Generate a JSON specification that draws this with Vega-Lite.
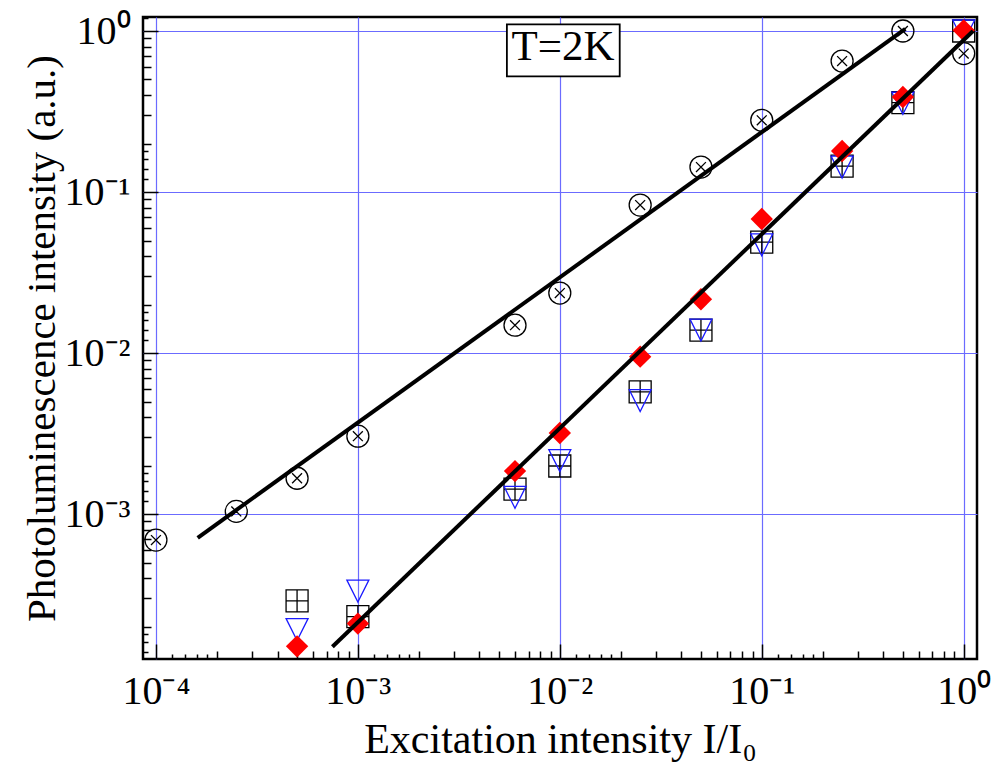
{
  "$schema": "https://vega.github.io/schema/vega-lite/v6.json",
  "width": 834,
  "height": 642,
  "autosize": {"type": "none"},
  "padding": {"left": 143, "top": 17, "right": 20, "bottom": 105},
  "background": "white",
  "config": {"view": {"stroke": "black", "strokeWidth": 2.5}},
  "datasets": {
    "circ": [
      {"x": 0.0001, "y": 0.00069},
      {"x": 0.00025, "y": 0.00104},
      {"x": 0.0005, "y": 0.00167},
      {"x": 0.001, "y": 0.00305},
      {"x": 0.006, "y": 0.0149},
      {"x": 0.01, "y": 0.0236},
      {"x": 0.025, "y": 0.083},
      {"x": 0.05, "y": 0.143},
      {"x": 0.1, "y": 0.279},
      {"x": 0.25, "y": 0.651},
      {"x": 0.5, "y": 1.0},
      {"x": 1, "y": 0.724}
    ],
    "sq": [
      {"x": 0.0005, "y": 0.000289},
      {"x": 0.001, "y": 0.000231},
      {"x": 0.006, "y": 0.00143},
      {"x": 0.01, "y": 0.00199},
      {"x": 0.025, "y": 0.00575},
      {"x": 0.05, "y": 0.0139},
      {"x": 0.1, "y": 0.0489},
      {"x": 0.25, "y": 0.145},
      {"x": 0.5, "y": 0.359},
      {"x": 1, "y": 1.0}
    ],
    "tri": [
      {"x": 0.0005, "y": 0.000192},
      {"x": 0.001, "y": 0.000333},
      {"x": 0.006, "y": 0.00127},
      {"x": 0.01, "y": 0.00215},
      {"x": 0.025, "y": 0.00507},
      {"x": 0.05, "y": 0.0139},
      {"x": 0.1, "y": 0.047},
      {"x": 0.25, "y": 0.143},
      {"x": 0.5, "y": 0.356},
      {"x": 1, "y": 1.0}
    ],
    "dia": [
      {"x": 0.0005, "y": 0.000151},
      {"x": 0.001, "y": 0.000209},
      {"x": 0.006, "y": 0.00185},
      {"x": 0.01, "y": 0.00319},
      {"x": 0.025, "y": 0.0095},
      {"x": 0.05, "y": 0.0216},
      {"x": 0.1, "y": 0.068},
      {"x": 0.25, "y": 0.18},
      {"x": 0.5, "y": 0.389},
      {"x": 1, "y": 1.01}
    ],
    "fit": [
      {"line": "A", "x": 0.000161, "y": 0.000713},
      {"line": "A", "x": 0.514, "y": 1.03},
      {"line": "B", "x": 0.000748, "y": 0.00015},
      {"line": "B", "x": 1.113, "y": 1.0}
    ],
    "box": [
      {"x": 0.00547, "x2": 0.0198, "y": 0.523, "y2": 1.10, "label": "T=2K", "tx": 0.01037, "ty": 0.664}
    ]
  },
  "resolve": {"axis": {"x": "independent", "y": "independent"}},
  "layer": [
    {
      "data": {"name": "sq"},
      "mark": {"type": "point", "shape": "M-1,-1H1V1H-1ZM0,-1V1M-1,0H1", "size": 484, "filled": false, "stroke": "black", "strokeWidth": 1.3, "opacity": 1},
      "encoding": {
        "x": {"field": "x", "type": "quantitative", "scale": {"type": "log", "domain": [0.0000863, 1.164], "nice": false},
          "axis": {"orient": "bottom", "values": [0.0002,0.0003,0.0004,0.0005,0.0006,0.0007,0.0008,0.0009,0.002,0.003,0.004,0.005,0.006,0.007,0.008,0.009,0.02,0.03,0.04,0.05,0.06,0.07,0.08,0.09,0.2,0.3,0.4,0.5,0.6,0.7,0.8,0.9],
            "tickSize": -8, "tickWidth": 1.5, "tickColor": "black", "labels": false, "domain": false, "grid": false, "title": null}},
        "y": {"field": "y", "type": "quantitative", "scale": {"type": "log", "domain": [0.000126, 1.222], "nice": false},
          "axis": {"orient": "left", "values": [0.0002,0.0003,0.0004,0.0005,0.0006,0.0007,0.0008,0.0009,0.002,0.003,0.004,0.005,0.006,0.007,0.008,0.009,0.02,0.03,0.04,0.05,0.06,0.07,0.08,0.09,0.2,0.3,0.4,0.5,0.6,0.7,0.8,0.9],
            "tickSize": -8, "tickWidth": 1.5, "tickColor": "black", "labels": false, "domain": false, "grid": false, "title": null}}
      }
    },
    {
      "data": {"name": "tri"},
      "mark": {"type": "point", "shape": "M-1,-1H1L0,1Z", "size": 484, "filled": false, "stroke": "#1a1aff", "strokeWidth": 1.3, "opacity": 1},
      "encoding": {
        "x": {"field": "x", "type": "quantitative",
          "axis": {"orient": "bottom", "values": [0.00012,0.00014,0.00016,0.00018,0.0012,0.0014,0.0016,0.0018,0.012,0.014,0.016,0.018,0.12,0.14,0.16,0.18],
            "tickSize": -5, "tickWidth": 1.5, "tickColor": "black", "labels": false, "domain": false, "grid": false, "title": null}},
        "y": {"field": "y", "type": "quantitative",
          "axis": {"orient": "left", "values": [0.00014,0.00016,0.00018,0.0012,0.0014,0.0016,0.0018,0.012,0.014,0.016,0.018,0.12,0.14,0.16,0.18,1.2],
            "tickSize": -5, "tickWidth": 1.5, "tickColor": "black", "labels": false, "domain": false, "grid": false, "title": null}}
      }
    },
    {
      "data": {"name": "circ"},
      "mark": {"type": "point", "shape": "M-1,0A1,1 0 1,1 1,0A1,1 0 1,1 -1,0ZM-0.45,-0.45L0.45,0.45M-0.45,0.45L0.45,-0.45", "size": 484, "filled": false, "stroke": "black", "strokeWidth": 1.3, "opacity": 1},
      "encoding": {
        "x": {"field": "x", "type": "quantitative",
          "axis": {"orient": "bottom", "values": [0.0001, 0.001, 0.01, 0.1, 1],
            "tickSize": -15, "tickWidth": 1.5, "tickColor": "black", "domain": false,
            "grid": true, "gridColor": "#6b6bff", "gridWidth": 1.2,
            "labelExpr": "['10⁻⁴','10⁻³','10⁻²','10⁻¹','10⁰'][round(log(datum.value)/LN10)+4]",
            "labelFont": "Liberation Serif", "labelFontSize": 40, "labelColor": "black", "labelPadding": 27, "labelBaseline": "top",
            "title": "Excitation intensity I/I₀", "titleFont": "Liberation Serif", "titleFontSize": 42, "titleFontWeight": "normal", "titleColor": "black",
            "titleY": 93, "titleBaseline": "alphabetic", "titleLimit": 2000}},
        "y": {"field": "y", "type": "quantitative",
          "axis": {"orient": "left", "values": [0.001, 0.01, 0.1, 1],
            "tickSize": -15, "tickWidth": 1.5, "tickColor": "black", "domain": false,
            "grid": true, "gridColor": "#6b6bff", "gridWidth": 1.2,
            "labelExpr": "['10⁻⁴','10⁻³','10⁻²','10⁻¹','10⁰'][round(log(datum.value)/LN10)+4]",
            "labelFont": "Liberation Serif", "labelFontSize": 40, "labelColor": "black", "labelPadding": 28,
            "title": "Photoluminescence intensity (a.u.)", "titleFont": "Liberation Serif", "titleFontSize": 41, "titleFontWeight": "normal", "titleColor": "black",
            "titleX": -101, "titleY": 321, "titleBaseline": "middle", "titleAlign": "center", "titleAngle": -90, "titleLimit": 2000}}
      }
    },
    {
      "data": {"name": "dia"},
      "mark": {"type": "point", "shape": "diamond", "size": 500, "filled": true, "fill": "#ff0000", "strokeWidth": 0, "opacity": 1},
      "encoding": {
        "x": {"field": "x", "type": "quantitative", "axis": null},
        "y": {"field": "y", "type": "quantitative", "axis": null}
      }
    },
    {
      "data": {"name": "fit"},
      "mark": {"type": "line", "color": "black", "strokeWidth": 4},
      "encoding": {
        "x": {"field": "x", "type": "quantitative", "axis": null},
        "y": {"field": "y", "type": "quantitative", "axis": null},
        "detail": {"field": "line"}
      }
    },
    {
      "data": {"name": "box"},
      "mark": {"type": "rect", "fill": "white", "stroke": "black", "strokeWidth": 1.8},
      "encoding": {
        "x": {"field": "x", "type": "quantitative", "axis": null},
        "x2": {"field": "x2"},
        "y": {"field": "y", "type": "quantitative", "axis": null},
        "y2": {"field": "y2"}
      }
    },
    {
      "data": {"name": "box"},
      "mark": {"type": "text", "font": "Liberation Serif", "fontSize": 43, "color": "black", "align": "center", "baseline": "alphabetic"},
      "encoding": {
        "x": {"field": "tx", "type": "quantitative", "axis": null},
        "y": {"field": "ty", "type": "quantitative", "axis": null},
        "text": {"field": "label"}
      }
    }
  ]
}
